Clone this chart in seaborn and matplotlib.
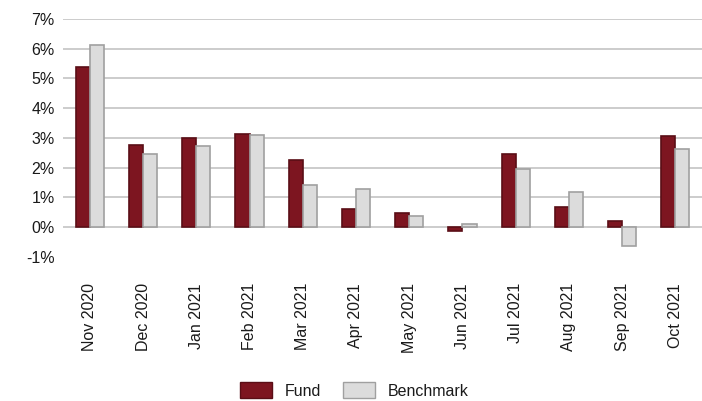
import pandas as pd
import matplotlib.pyplot as plt
from matplotlib.patches import Patch
import seaborn as sns

months = ['Nov 2020', 'Dec 2020', 'Jan 2021', 'Feb 2021', 'Mar 2021', 'Apr 2021',
          'May 2021', 'Jun 2021', 'Jul 2021', 'Aug 2021', 'Sep 2021', 'Oct 2021']
fund = [5.38, 2.76, 3.01, 3.14, 2.25, 0.61, 0.46, -0.13, 2.45, 0.67, 0.19, 3.06]
benchmark = [6.13, 2.46, 2.74, 3.11, 1.41, 1.29, 0.36, 0.10, 1.95, 1.19, -0.63, 2.64]

fund_color, fund_edge = '#7d1520', '#5a0e16'
bench_color, bench_edge = '#dcdcdc', '#a0a0a0'

df = pd.DataFrame({'month': months * 2,
                   'value': fund + benchmark,
                   'series': ['Fund'] * len(months) + ['Benchmark'] * len(months)})

sns.set_style('white')
plt.rcParams['font.family'] = ['Liberation Sans', 'DejaVu Sans']
plt.rcParams['text.color'] = '#1a1a1a'
plt.rcParams['xtick.color'] = '#1a1a1a'
plt.rcParams['ytick.color'] = '#1a1a1a'

fig = plt.figure(figsize=(7.02, 4.01), dpi=100)
ax = fig.add_axes([0.09, 0.36, 0.91, 0.5926])

sns.barplot(data=df, x='month', y='value', hue='series', order=months,
            hue_order=['Fund', 'Benchmark'], palette=[fund_color, bench_color],
            saturation=1, width=0.53, gap=0, linewidth=1.2, legend=False, ax=ax)

# per-series edge colours
n = len(months)
for i, bar in enumerate(ax.patches[:2 * n]):
    bar.set_edgecolor(fund_edge if i < n else bench_edge)

ax.set_ylim(-1, 7)
ax.set_xlim(-0.5, n - 0.5)
ax.set_yticks(range(-1, 8))
ax.set_yticklabels([f'{v}%' for v in range(-1, 8)], fontsize=11.5)
for v in range(0, 8):
    ax.axhline(v, color='#c8c8c8', linewidth=1.3, zorder=0)
ax.set_xticks(range(n))
ax.set_xticklabels(months, rotation=90, fontsize=11.5)
ax.set_xlabel('')
ax.set_ylabel('')
ax.tick_params(axis='both', length=0)
ax.tick_params(axis='y', pad=6)
ax.tick_params(axis='x', pad=19)
for s in ax.spines.values():
    s.set_visible(False)

handles = [Patch(facecolor=fund_color, edgecolor=fund_edge, label='Fund'),
           Patch(facecolor=bench_color, edgecolor=bench_edge, label='Benchmark')]
fig.legend(handles=handles, loc='lower center', bbox_to_anchor=(0.505, -0.03), ncol=2,
           frameon=False, fontsize=11.5, handlelength=2.0, handleheight=1.2,
           columnspacing=1.4, handletextpad=0.8)

fig.savefig('out.png', dpi=100)
